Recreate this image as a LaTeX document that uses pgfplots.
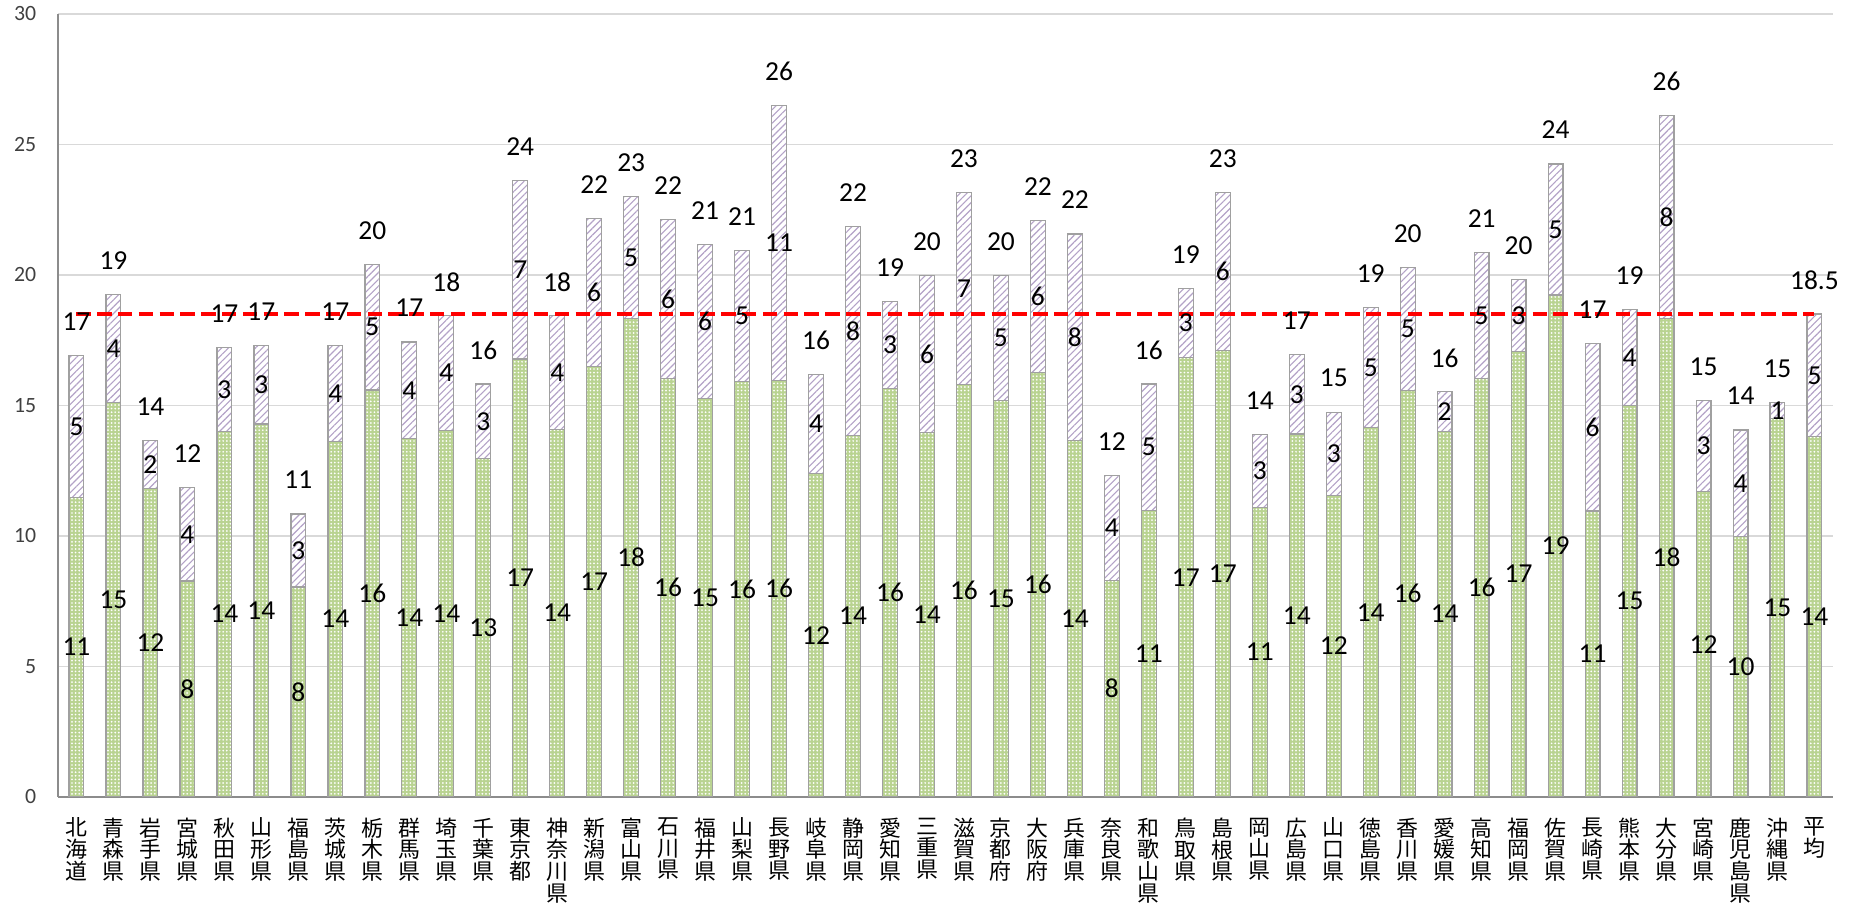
\documentclass[border=0pt]{standalone}
\usepackage{fontspec}
\setmainfont{Carlito}
\newfontfamily\jp{Noto Sans CJK JP}
\usepackage{pgfplots}
\usepackage{pgfplotstable}
\pgfplotsset{compat=1.18}
\usetikzlibrary{patterns.meta}
\definecolor{grn}{HTML}{B9D391}
\definecolor{pur}{HTML}{B3A2C7}
\definecolor{barline}{HTML}{A0A0A0}
\definecolor{gridc}{HTML}{D9D9D9}
\definecolor{axc}{HTML}{8C8C8C}
\definecolor{tickc}{HTML}{404040}
\pgfplotstableread{
x g p gl pl tl
0 11.47 5.43 11 5 17
1 15.12 4.14 15 4 19
2 11.82 1.82 12 2 14
3 8.27 3.58 8 4 12
4 14.00 3.22 14 3 17
5 14.29 3.00 14 3 17
6 8.04 2.80 8 3 11
7 13.63 3.65 14 4 17
8 15.59 4.82 16 5 20
9 13.72 3.71 14 4 17
10 14.04 4.39 14 4 18
11 12.95 2.87 13 3 16
12 16.78 6.85 17 7 24
13 14.09 4.34 14 4 18
14 16.49 5.68 17 6 22
15 18.34 4.66 18 5 23
16 16.04 6.07 16 6 22
17 15.27 5.90 15 6 21
18 15.91 5.02 16 5 21
19 15.96 10.54 16 11 26
20 12.38 3.80 12 4 16
21 13.86 7.99 14 8 22
22 15.64 3.34 16 3 19
23 13.96 6.03 14 6 20
24 15.79 7.38 16 7 23
25 15.19 4.80 15 5 20
26 16.27 5.82 16 6 22
27 13.65 7.92 14 8 22
28 8.30 4.01 8 4 12
29 10.98 4.84 11 5 16
30 16.83 2.65 17 3 19
31 17.10 6.07 17 6 23
32 11.10 2.78 11 3 14
33 13.90 3.05 14 3 17
34 11.56 3.18 12 3 15
35 14.15 4.60 14 5 19
36 15.58 4.71 16 5 20
37 14.00 1.52 14 2 16
38 16.02 4.85 16 5 21
39 17.08 2.74 17 3 20
40 19.23 5.02 19 5 24
41 10.95 6.42 11 6 17
42 14.99 3.67 15 4 19
43 18.33 7.77 18 8 26
44 11.70 3.49 12 3 15
45 9.97 4.09 10 4 14
46 14.50 0.62 15 1 15
47 13.80 4.70 14 5 18.5
}\datatable
\begin{document}
\begin{tikzpicture}
\useasboundingbox (0,0) rectangle (463.75mm,227.25mm);
\begin{axis}[
  at={(14.5mm,28.05mm)}, anchor=south west,
  scale only axis, width=443.75mm, height=195.7mm,
  xmin=-0.5, xmax=47.5, ymin=0, ymax=30,
  ytick={0,5,10,15,20,25,30},
  xtick={0,...,47},
  xticklabels={{北\\海\\道},{青\\森\\県},{岩\\手\\県},{宮\\城\\県},{秋\\田\\県},{山\\形\\県},{福\\島\\県},{茨\\城\\県},{栃\\木\\県},{群\\馬\\県},{埼\\玉\\県},{千\\葉\\県},{東\\京\\都},{神\\奈\\川\\県},{新\\潟\\県},{富\\山\\県},{石\\川\\県},{福\\井\\県},{山\\梨\\県},{長\\野\\県},{岐\\阜\\県},{静\\岡\\県},{愛\\知\\県},{三\\重\\県},{滋\\賀\\県},{京\\都\\府},{大\\阪\\府},{兵\\庫\\県},{奈\\良\\県},{和\\歌\\山\\県},{鳥\\取\\県},{島\\根\\県},{岡\\山\\県},{広\\島\\県},{山\\口\\県},{徳\\島\\県},{香\\川\\県},{愛\\媛\\県},{高\\知\\県},{福\\岡\\県},{佐\\賀\\県},{長\\崎\\県},{熊\\本\\県},{大\\分\\県},{宮\\崎\\県},{鹿\\児\\島\\県},{沖\\縄\\県},{平\\均}},
  major tick length=0pt,
  axis x line*=bottom, axis y line*=left,
  axis line style={draw=axc, line width=0.4mm, -},
  ymajorgrids, grid style={draw=gridc, line width=0.35mm},
  /pgf/number format/assume math mode=true,
  yticklabel style={font=\fontsize{15.5}{17}\selectfont, text=tickc, xshift=-4.2mm},
  xticklabel style={font=\jp\fontsize{15.6}{15.4}\selectfont, align=center, anchor=north, inner sep=0pt, yshift=-5.2mm, text=black},
  clip=false,
]
\addplot[ybar, bar width=0.4, bar shift=0pt, draw=barline, line width=0.3mm, fill=white,
  postaction={pattern color=pur, pattern={Lines[angle=45, distance=1.2mm, line width=0.28mm]}}]
  table[x=x, y expr=\thisrow{g}+\thisrow{p}] {\datatable};
\addplot[ybar, bar width=0.4, bar shift=0pt, draw=barline, line width=0.3mm, fill=grn,
  postaction={pattern color=white, pattern={Dots[distance=0.9mm, radius=0.24mm]}}]
  table[x=x, y=g] {\datatable};
\addplot[draw={rgb,255:red,255;green,0;blue,0}, line width=0.95mm, dash pattern=on 3.6mm off 1.6mm]
  coordinates {(0,18.5) (47,18.5)};
\addplot[draw=none, nodes near coords, point meta=explicit symbolic,
  every node near coord/.append style={font=\fontsize{19.5}{21}\selectfont, text=black, anchor=center, inner sep=0pt}]
  table[x=x, y expr=\thisrow{g}/2, meta=gl] {\datatable};
\addplot[draw=none, nodes near coords, point meta=explicit symbolic,
  every node near coord/.append style={font=\fontsize{19.5}{21}\selectfont, text=black, anchor=center, inner sep=0pt}]
  table[x=x, y expr=\thisrow{g}+\thisrow{p}/2, meta=pl] {\datatable};
\addplot[draw=none, nodes near coords, point meta=explicit symbolic,
  every node near coord/.append style={font=\fontsize{19.5}{21}\selectfont, text=black, anchor=center, inner sep=0pt}]
  table[x=x, y expr=\thisrow{g}+\thisrow{p}+1.3, meta=tl] {\datatable};
\end{axis}
\end{tikzpicture}
\end{document}
